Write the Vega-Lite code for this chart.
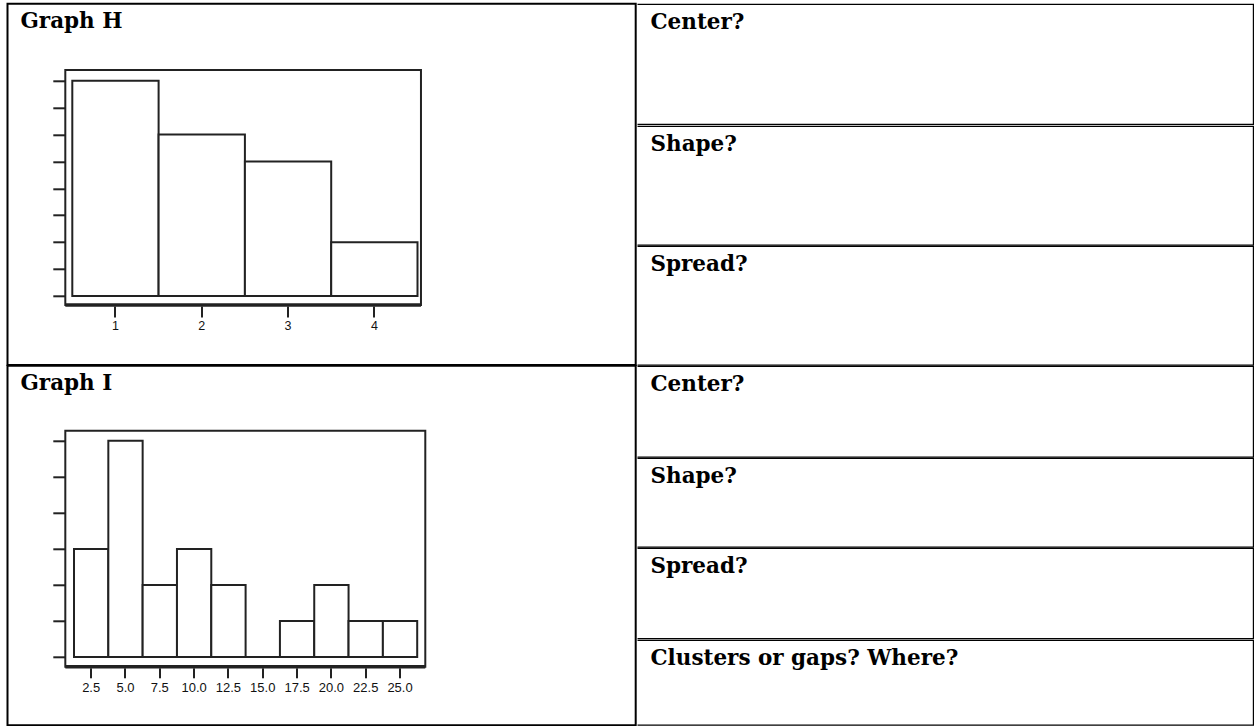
{
  "$schema": "https://vega.github.io/schema/vega-lite/v6.json",
  "background": "white",
  "padding": {"left": 6.5, "top": 2.8, "right": 0, "bottom": 0},
  "config": {
    "view": {"stroke": null},
    "title": {"font": "DejaVu Serif", "fontWeight": "bold", "fontSize": 21.5, "color": "#000", "anchor": "start", "frame": "group", "offset": -30, "baseline": "alphabetic", "dx": 13},
    "axis": {"grid": false, "domain": false, "tickColor": "#222", "tickWidth": 2, "labelColor": "#111", "labelFont": "Liberation Sans", "labelOverlap": false, "labelFlush": false}
  },
  "datasets": {
    "histH": [
      {"bin_start": 0.5, "bin_end": 1.5, "count": 8},
      {"bin_start": 1.5, "bin_end": 2.5, "count": 6},
      {"bin_start": 2.5, "bin_end": 3.5, "count": 5},
      {"bin_start": 3.5, "bin_end": 4.5, "count": 2}
    ],
    "frameH": [{"xmin": 0.4247, "xmax": 4.546, "ymin": -0.3345, "ymax": 8.398}],
    "histI": [
      {"bin_start": 1.25, "bin_end": 3.75, "count": 3},
      {"bin_start": 3.75, "bin_end": 6.25, "count": 6},
      {"bin_start": 6.25, "bin_end": 8.75, "count": 2},
      {"bin_start": 8.75, "bin_end": 11.25, "count": 3},
      {"bin_start": 11.25, "bin_end": 13.75, "count": 2},
      {"bin_start": 13.75, "bin_end": 16.25, "count": 0},
      {"bin_start": 16.25, "bin_end": 18.75, "count": 1},
      {"bin_start": 18.75, "bin_end": 21.25, "count": 2},
      {"bin_start": 21.25, "bin_end": 23.75, "count": 1},
      {"bin_start": 23.75, "bin_end": 26.25, "count": 1}
    ],
    "frameI": [{"xmin": 0.653, "xmax": 26.876, "ymin": -0.269, "ymax": 6.277}],
    "cell": [{"cell": "table cell"}]
  },
  "spacing": 0,
  "hconcat": [
    {
      "spacing": 0,
      "bounds": "flush",
      "vconcat": [
        {
          "width": 628.2,
          "height": 361.2,
          "title": "Graph H",
          "layer": [
            {
              "data": {"name": "cell"},
              "mark": {"type": "rect", "fill": null, "stroke": "#000", "strokeWidth": 2},
              "encoding": {}
            },
            {
              "data": {"name": "histH"},
              "mark": {"type": "rect", "fill": "white", "stroke": "#222", "strokeWidth": 2},
              "encoding": {
                "x": {"field": "bin_start", "type": "quantitative", "bin": "binned", "scale": {"domain": [-0.2451, 7.0342], "nice": false, "zero": false},
                      "axis": {"title": null, "orient": "bottom", "offset": -59, "values": [1, 2, 3, 4], "format": "d", "tickSize": 11, "labelFontSize": 12.5, "labelPadding": 3}},
                "x2": {"field": "bin_end"},
                "y": {"field": "count", "type": "quantitative", "scale": {"domain": [-2.564, 10.859], "nice": false, "zero": false},
                      "axis": {"title": null, "orient": "left", "offset": -57.8, "values": [0, 1, 2, 3, 4, 5, 6, 7, 8], "tickSize": 12.5, "labels": false}},
                "y2": {"datum": 0}
              }
            },
            {
              "data": {"name": "frameH"},
              "mark": {"type": "rect", "fill": null, "stroke": "#222", "strokeWidth": 2},
              "encoding": {
                "x": {"field": "xmin", "type": "quantitative", "scale": {"domain": [-0.2451, 7.0342], "nice": false, "zero": false},
                      "axis": {"title": null, "orient": "bottom", "offset": -59, "values": [1, 2, 3, 4], "format": "d", "tickSize": 11, "labelFontSize": 12.5, "labelPadding": 3}},
                "x2": {"field": "xmax"},
                "y": {"field": "ymin", "type": "quantitative", "scale": {"domain": [-2.564, 10.859], "nice": false, "zero": false},
                      "axis": {"title": null, "orient": "left", "offset": -57.8, "values": [0, 1, 2, 3, 4, 5, 6, 7, 8], "tickSize": 12.5, "labels": false}},
                "y2": {"field": "ymax"}
              }
            },
            {
              "data": {"name": "frameH"},
              "mark": {"type": "rule", "stroke": "#222", "strokeWidth": 3.5},
              "encoding": {
                "x": {"field": "xmin", "type": "quantitative", "scale": {"domain": [-0.2451, 7.0342], "nice": false, "zero": false},
                      "axis": {"title": null, "orient": "bottom", "offset": -59, "values": [1, 2, 3, 4], "format": "d", "tickSize": 11, "labelFontSize": 12.5, "labelPadding": 3}},
                "x2": {"field": "xmax"},
                "y": {"field": "ymin", "type": "quantitative", "scale": {"domain": [-2.564, 10.859], "nice": false, "zero": false},
                      "axis": {"title": null, "orient": "left", "offset": -57.8, "values": [0, 1, 2, 3, 4, 5, 6, 7, 8], "tickSize": 12.5, "labels": false}}
              }
            }
          ]
        },
        {
          "width": 628.2,
          "height": 359.5,
          "title": "Graph I",
          "layer": [
            {
              "data": {"name": "cell"},
              "mark": {"type": "rect", "fill": null, "stroke": "#000", "strokeWidth": 2},
              "encoding": {}
            },
            {
              "data": {"name": "histI"},
              "mark": {"type": "rect", "fill": "white", "stroke": "#222", "strokeWidth": 2},
              "encoding": {
                "x": {"field": "bin_start", "type": "quantitative", "bin": "binned", "scale": {"domain": [-3.558, 42.203], "nice": false, "zero": false},
                      "axis": {"title": null, "orient": "bottom", "offset": -57.5, "values": [2.5, 5, 7.5, 10, 12.5, 15, 17.5, 20, 22.5, 25], "format": ".1f", "tickSize": 10, "labelFontSize": 13, "labelPadding": 4}},
                "x2": {"field": "bin_end"},
                "y": {"field": "count", "type": "quantitative", "scale": {"domain": [-1.892, 8.08], "nice": false, "zero": false},
                      "axis": {"title": null, "orient": "left", "offset": -57.8, "values": [0, 1, 2, 3, 4, 5, 6], "tickSize": 12.5, "labels": false}},
                "y2": {"datum": 0}
              }
            },
            {
              "data": {"name": "frameI"},
              "mark": {"type": "rect", "fill": null, "stroke": "#222", "strokeWidth": 2},
              "encoding": {
                "x": {"field": "xmin", "type": "quantitative", "scale": {"domain": [-3.558, 42.203], "nice": false, "zero": false},
                      "axis": {"title": null, "orient": "bottom", "offset": -57.5, "values": [2.5, 5, 7.5, 10, 12.5, 15, 17.5, 20, 22.5, 25], "format": ".1f", "tickSize": 10, "labelFontSize": 13, "labelPadding": 4}},
                "x2": {"field": "xmax"},
                "y": {"field": "ymin", "type": "quantitative", "scale": {"domain": [-1.892, 8.08], "nice": false, "zero": false},
                      "axis": {"title": null, "orient": "left", "offset": -57.8, "values": [0, 1, 2, 3, 4, 5, 6], "tickSize": 12.5, "labels": false}},
                "y2": {"field": "ymax"}
              }
            },
            {
              "data": {"name": "frameI"},
              "mark": {"type": "rule", "stroke": "#222", "strokeWidth": 3.5},
              "encoding": {
                "x": {"field": "xmin", "type": "quantitative", "scale": {"domain": [-3.558, 42.203], "nice": false, "zero": false},
                      "axis": {"title": null, "orient": "bottom", "offset": -57.5, "values": [2.5, 5, 7.5, 10, 12.5, 15, 17.5, 20, 22.5, 25], "format": ".1f", "tickSize": 10, "labelFontSize": 13, "labelPadding": 4}},
                "x2": {"field": "xmax"},
                "y": {"field": "ymin", "type": "quantitative", "scale": {"domain": [-1.892, 8.08], "nice": false, "zero": false},
                      "axis": {"title": null, "orient": "left", "offset": -57.8, "values": [0, 1, 2, 3, 4, 5, 6], "tickSize": 12.5, "labels": false}}
              }
            }
          ]
        }
      ]
    },
    {
      "spacing": 0,
      "bounds": "flush",
      "vconcat": [
        {"width": 616.5, "height": 121.2, "title": "Center?", "data": {"name": "cell"}, "mark": {"type": "rect", "fill": null, "stroke": "#000", "strokeWidth": 2.4, "clip": true},
         "encoding": {"x": {"datum": -0.1, "type": "quantitative", "scale": {"domain": [0, 1], "nice": false, "zero": false}, "axis": null}, "x2": {"datum": 1}}},
        {"width": 616.5, "height": 120, "title": "Shape?", "data": {"name": "cell"}, "mark": {"type": "rect", "fill": null, "stroke": "#000", "strokeWidth": 2.4, "clip": true},
         "encoding": {"x": {"datum": -0.1, "type": "quantitative", "scale": {"domain": [0, 1], "nice": false, "zero": false}, "axis": null}, "x2": {"datum": 1}}},
        {"width": 616.5, "height": 120, "title": "Spread?", "data": {"name": "cell"}, "mark": {"type": "rect", "fill": null, "stroke": "#000", "strokeWidth": 2.4, "clip": true},
         "encoding": {"x": {"datum": -0.1, "type": "quantitative", "scale": {"domain": [0, 1], "nice": false, "zero": false}, "axis": null}, "x2": {"datum": 1}}},
        {"width": 616.5, "height": 92, "title": "Center?", "data": {"name": "cell"}, "mark": {"type": "rect", "fill": null, "stroke": "#000", "strokeWidth": 2.4, "clip": true},
         "encoding": {"x": {"datum": -0.1, "type": "quantitative", "scale": {"domain": [0, 1], "nice": false, "zero": false}, "axis": null}, "x2": {"datum": 1}}},
        {"width": 616.5, "height": 90, "title": "Shape?", "data": {"name": "cell"}, "mark": {"type": "rect", "fill": null, "stroke": "#000", "strokeWidth": 2.4, "clip": true},
         "encoding": {"x": {"datum": -0.1, "type": "quantitative", "scale": {"domain": [0, 1], "nice": false, "zero": false}, "axis": null}, "x2": {"datum": 1}}},
        {"width": 616.5, "height": 91.5, "title": "Spread?", "data": {"name": "cell"}, "mark": {"type": "rect", "fill": null, "stroke": "#000", "strokeWidth": 2.4, "clip": true},
         "encoding": {"x": {"datum": -0.1, "type": "quantitative", "scale": {"domain": [0, 1], "nice": false, "zero": false}, "axis": null}, "x2": {"datum": 1}}},
        {"width": 616.5, "height": 86, "title": "Clusters or gaps? Where?", "data": {"name": "cell"}, "mark": {"type": "rect", "fill": null, "stroke": "#000", "strokeWidth": 2.4, "clip": true},
         "encoding": {"x": {"datum": -0.1, "type": "quantitative", "scale": {"domain": [0, 1], "nice": false, "zero": false}, "axis": null}, "x2": {"datum": 1}}}
      ]
    }
  ]
}
